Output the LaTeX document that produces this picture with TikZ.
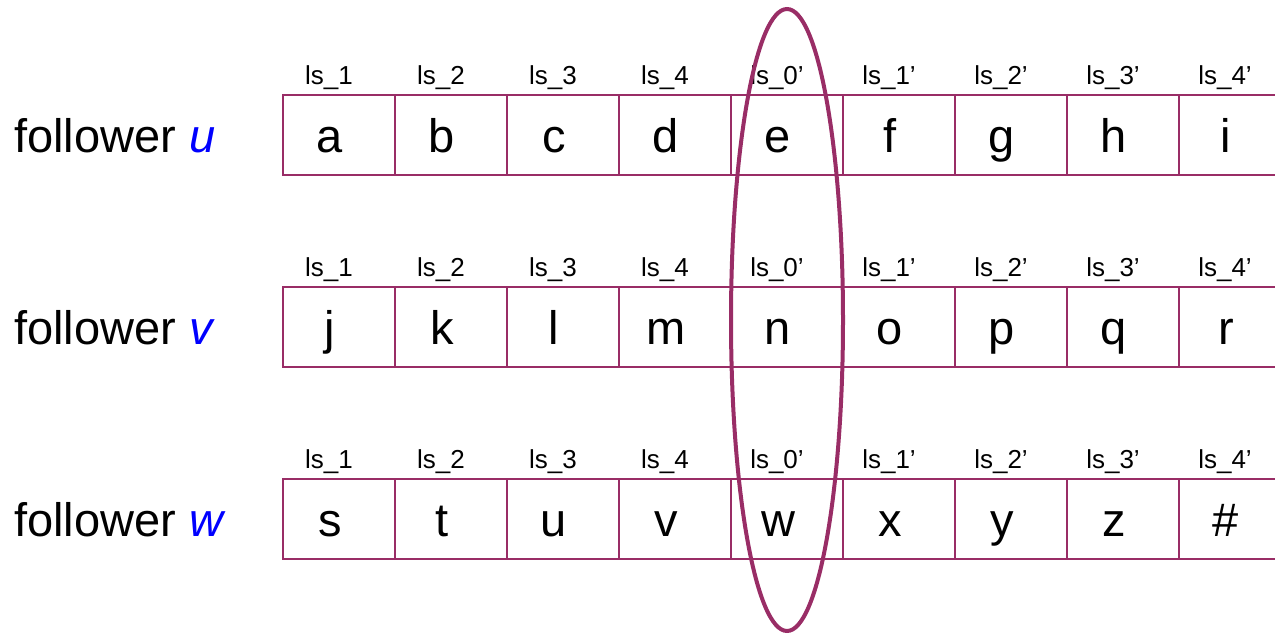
\documentclass[tikz,border=0pt]{standalone}
\usepackage{fontspec}
\setmainfont{Liberation Sans}
\usetikzlibrary{shapes.geometric}
\definecolor{plum}{RGB}{153,45,102}
\begin{document}
\begin{tikzpicture}[x=1pt,y=-1pt,cell/.style={draw=plum,line width=1.5pt,minimum width=112pt,minimum height=80pt,inner sep=0pt},
big/.style={font=\fontsize{47}{47}\selectfont,inner sep=0pt},lbl/.style={font=\fontsize{26}{26}\selectfont,inner sep=0pt}]
\clip (0,0) rectangle (1275,635);
\foreach \r/\y/\who/\cells in {1/135/u/{a,b,c,d,e,f,g,h,i},2/327/v/{j,k,l,m,n,o,p,q,r},3/519/w/{s,t,u,v,w,x,y,z,\#}}{
\node[big,anchor=base west] (f\r) at (14,\y+17) {follower \textcolor{blue}{\textit{\who}}};
\foreach \c [count=\i] in \cells {\pgfmathsetmacro{\cx}{339+112*(\i-1)}
\node[cell] (c\r\i) at (\cx,\y) {};\node[big,anchor=base] (t\r\i) at ([xshift=-9pt,yshift=-17pt]c\r\i.center) {\c};}
\foreach \lab [count=\i] in {1,2,3,4,0',1',2',3',4'}{
\node[lbl,anchor=base] (l\r\i) at ([xshift=-10pt,yshift=10pt]c\r\i.north) {ls\_\lab};}
}
\node[ellipse,draw=plum,line width=4pt,minimum width=112pt,minimum height=622pt,inner sep=0pt] (sel) at (787,320) {};
\end{tikzpicture}
\end{document}
